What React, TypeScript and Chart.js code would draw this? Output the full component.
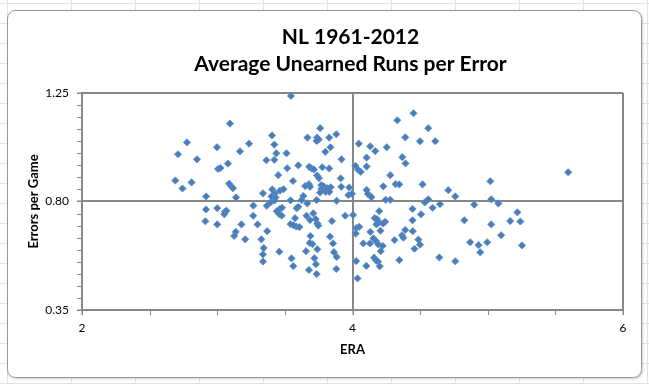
import { useEffect, useRef } from 'react';
import { Chart, registerables } from 'chart.js';

Chart.register(...registerables);

const titleLines = ['NL 1961-2012', 'Average Unearned Runs per Error'];
const xAxisTitle = 'ERA';
const yAxisTitle = 'Errors per Game';
const xTickValues = [2, 4, 6];
const yTickValues = [0.35, 0.8, 1.25];
const xMinorStep = 0.5;
const yMinorStep = 0.05;

const era = [
  3.545, 3.094, 2.776, 2.710, 2.998, 2.850, 3.235, 3.168, 3.079, 3.006,
  3.024, 3.405, 3.422, 3.437, 3.512, 3.363, 3.422, 3.517, 3.451, 3.560,
  2.690, 2.810, 2.743, 3.088, 3.105, 3.116, 2.918, 3.139, 3.338, 3.407,
  3.427, 3.464, 3.490, 3.401, 3.431, 3.542, 3.599, 3.667, 3.738, 3.750,
  3.735, 3.761, 3.828, 3.880, 3.837, 3.799, 3.919, 3.680, 3.697, 3.714,
  3.777, 3.828, 3.738, 3.752, 3.913, 3.650, 3.678, 3.686, 3.769, 3.787,
  3.814, 3.839, 3.769, 3.802, 3.829, 3.760, 3.917, 3.976, 3.969, 3.996,
  3.636, 3.624, 3.735, 3.883, 4.046, 4.131, 4.168, 4.253, 4.331, 4.451,
  4.390, 4.499, 4.560, 4.612, 4.104, 4.368, 4.392, 4.022, 4.042, 4.061,
  4.104, 4.279, 4.228, 4.319, 4.346, 4.104, 4.113, 4.140, 4.245, 4.279,
  4.518, 4.708, 4.760, 5.019, 5.026, 5.078, 4.900, 4.560, 4.534, 4.647,
  5.595, 3.267, 2.917, 3.000, 3.057, 3.068, 3.052, 2.912, 3.000, 3.179,
  3.266, 3.298, 3.137, 3.125, 3.207, 3.326, 3.369, 3.344, 3.338, 3.338,
  3.459, 3.549, 3.562, 3.366, 3.394, 3.423, 3.440, 3.460, 3.479, 3.460,
  3.477, 3.542, 3.575, 3.585, 3.608, 3.564, 3.587, 3.599, 3.666, 3.660,
  3.710, 3.686, 3.728, 3.740, 3.747, 3.848, 3.946, 4.004, 3.689, 3.684,
  3.704, 3.740, 3.656, 3.718, 3.730, 3.678, 3.735, 3.834, 3.856, 3.863,
  3.883, 3.880, 4.028, 4.024, 4.050, 4.027, 4.037, 4.102, 4.080, 4.132,
  4.129, 4.155, 4.174, 4.191, 4.223, 4.164, 4.181, 4.197, 4.177, 4.242,
  4.226, 4.198, 4.207, 4.160, 4.174, 4.189, 4.201, 4.209, 4.311, 4.346,
  4.366, 4.390, 4.376, 4.444, 4.444, 4.446, 4.487, 4.499, 4.458, 4.507,
  4.592, 4.827, 5.026, 5.099, 4.870, 4.932, 4.945, 4.996, 5.166, 5.219,
  5.241, 5.253, 4.642, 4.760,
];

const errorsPerGame = [
  1.238, 1.123, 1.045, 0.996, 1.025, 0.975, 1.040, 1.008, 0.957, 0.935,
  0.939, 1.074, 1.036, 1.000, 1.000, 0.971, 0.973, 0.938, 0.909, 0.885,
  0.887, 0.879, 0.854, 0.874, 0.862, 0.855, 0.821, 0.817, 0.834, 0.850,
  0.834, 0.845, 0.851, 0.821, 0.817, 0.805, 0.950, 1.065, 1.065, 1.057,
  1.051, 1.104, 1.065, 1.079, 1.025, 1.006, 0.975, 0.944, 0.937, 0.933,
  0.942, 0.937, 0.908, 0.897, 0.896, 0.864, 0.872, 0.861, 0.868, 0.863,
  0.855, 0.859, 0.852, 0.840, 0.840, 0.837, 0.861, 0.858, 0.827, 0.832,
  0.823, 0.806, 0.806, 0.803, 1.040, 1.029, 1.009, 1.025, 1.137, 1.166,
  1.066, 1.050, 1.104, 1.050, 0.982, 0.984, 0.958, 0.948, 0.931, 0.923,
  0.945, 0.909, 0.863, 0.872, 0.871, 0.848, 0.832, 0.818, 0.807, 0.807,
  0.871, 0.847, 0.821, 0.884, 0.809, 0.792, 0.787, 0.809, 0.796, 0.789,
  0.921, 0.783, 0.767, 0.772, 0.758, 0.762, 0.747, 0.718, 0.705, 0.705,
  0.741, 0.705, 0.674, 0.657, 0.643, 0.643, 0.677, 0.607, 0.581, 0.551,
  0.592, 0.564, 0.532, 0.782, 0.796, 0.804, 0.760, 0.768, 0.774, 0.747,
  0.741, 0.706, 0.731, 0.696, 0.694, 0.701, 0.772, 0.778, 0.792, 0.741,
  0.751, 0.723, 0.727, 0.709, 0.700, 0.719, 0.741, 0.744, 0.657, 0.628,
  0.623, 0.602, 0.594, 0.565, 0.540, 0.516, 0.499, 0.654, 0.626, 0.590,
  0.570, 0.520, 0.690, 0.667, 0.695, 0.553, 0.481, 0.533, 0.626, 0.674,
  0.626, 0.647, 0.636, 0.622, 0.616, 0.731, 0.727, 0.713, 0.705, 0.716,
  0.709, 0.760, 0.679, 0.567, 0.556, 0.550, 0.531, 0.594, 0.640, 0.557,
  0.660, 0.682, 0.650, 0.769, 0.722, 0.677, 0.642, 0.621, 0.604, 0.747,
  0.774, 0.722, 0.705, 0.660, 0.631, 0.619, 0.589, 0.631, 0.719, 0.755,
  0.717, 0.618, 0.568, 0.552,
];

const FONT = 'Lato, "Liberation Sans", sans-serif';
const AXIS_GRAY = '#878787';
const MARKER_BLUE = '#4A7EBB';

const framePlugin = {
  id: 'excelFrame',
  beforeDraw(chart: any) {
    const { ctx, width, height } = chart;
    ctx.save();
    ctx.fillStyle = '#ffffff';
    ctx.fillRect(0, 0, width, height);
    ctx.strokeStyle = '#e0e2e3';
    ctx.lineWidth = 1;
    for (let x = 7.5; x < width; x += 64) {
      ctx.beginPath();
      ctx.moveTo(x, 0);
      ctx.lineTo(x, height);
      ctx.stroke();
    }
    for (let y = 3.5; y < height; y += 20) {
      ctx.beginPath();
      ctx.moveTo(0, y);
      ctx.lineTo(width, y);
      ctx.stroke();
    }
    const l = 7.5, t = 10.5, r = 641.5, b = 377.5, rad = 8;
    ctx.shadowColor = 'rgba(0,0,0,0.25)';
    ctx.shadowBlur = 3;
    ctx.shadowOffsetX = 1;
    ctx.shadowOffsetY = 1;
    ctx.beginPath();
    ctx.moveTo(l + rad, t);
    ctx.lineTo(r - rad, t);
    ctx.arcTo(r, t, r, t + rad, rad);
    ctx.lineTo(r, b - rad);
    ctx.arcTo(r, b, r - rad, b, rad);
    ctx.lineTo(l + rad, b);
    ctx.arcTo(l, b, l, b - rad, rad);
    ctx.lineTo(l, t + rad);
    ctx.arcTo(l, t, l + rad, t, rad);
    ctx.closePath();
    ctx.fillStyle = '#ffffff';
    ctx.fill();
    ctx.shadowColor = 'transparent';
    ctx.strokeStyle = '#9a9a9a';
    ctx.stroke();
    ctx.restore();
  },
};

const titlePlugin = {
  id: 'excelTitle',
  afterDraw(chart: any) {
    const { ctx, chartArea } = chart;
    const cx = (chartArea.left + chartArea.right) / 2 - 2;
    ctx.save();
    ctx.fillStyle = '#000000';
    ctx.textAlign = 'center';
    ctx.textBaseline = 'middle';
    ctx.font = `bold 21px ${FONT}`;
    const ys = [37, 64];
    titleLines.forEach((line, i) => ctx.fillText(line, cx, ys[i]));
    ctx.restore();
  },
};

const minorTickPlugin = {
  id: 'minorTicks',
  afterDatasetsDraw(chart: any) {
    const { ctx, chartArea, scales } = chart;
    const xs = scales.x;
    const ys = scales.y;
    ctx.save();
    ctx.strokeStyle = AXIS_GRAY;
    ctx.lineWidth = 1;
    const yMin = yTickValues[0];
    const yMax = yTickValues[yTickValues.length - 1];
    const ny = Math.round((yMax - yMin) / yMinorStep);
    for (let i = 0; i <= ny; i++) {
      const py = Math.round(ys.getPixelForValue(yMin + i * yMinorStep)) + 0.5;
      ctx.beginPath();
      ctx.moveTo(chartArea.left - 5, py);
      ctx.lineTo(chartArea.left, py);
      ctx.stroke();
    }
    const xMin = xTickValues[0];
    const xMax = xTickValues[xTickValues.length - 1];
    const nx = Math.round((xMax - xMin) / xMinorStep);
    for (let i = 0; i <= nx; i++) {
      const px = Math.round(xs.getPixelForValue(xMin + i * xMinorStep)) + 0.5;
      ctx.beginPath();
      ctx.moveTo(px, chartArea.bottom);
      ctx.lineTo(px, chartArea.bottom + 5);
      ctx.stroke();
    }
    ctx.restore();
  },
};

export default function App() {
  const canvasRef = useRef<HTMLCanvasElement | null>(null);

  useEffect(() => {
    if (!canvasRef.current) return;
    const points = era.map((x, i) => ({ x, y: errorsPerGame[i] }));
    const chart = new Chart(canvasRef.current, {
      type: 'scatter',
      data: {
        datasets: [
          {
            label: 'Teams',
            data: points,
            pointStyle: 'rectRot',
            pointRadius: 3.6,
            pointHoverRadius: 3.6,
            pointBackgroundColor: MARKER_BLUE,
            pointBorderColor: '#5a8bc6',
            pointBorderWidth: 0.8,
          },
        ],
      },
      options: {
        animation: false,
        responsive: false,
        devicePixelRatio: 1,
        events: [],
        layout: { padding: { left: 0, right: 26, top: 93, bottom: 0 } },
        plugins: {
          legend: { display: false },
          tooltip: { enabled: false },
          title: { display: false },
        },
        scales: {
          x: {
            type: 'linear',
            min: xTickValues[0],
            max: xTickValues[xTickValues.length - 1],
            afterBuildTicks: (s: any) => {
              s.ticks = xTickValues.map((v) => ({ value: v }));
            },
            afterFit: (s: any) => {
              s.height = 74;
            },
            ticks: {
              color: '#000000',
              font: { family: FONT, size: 12 },
              padding: 6,
              maxRotation: 0,
              callback: (v: any) => String(v),
            },
            grid: {
              color: AXIS_GRAY,
              lineWidth: 2,
              drawTicks: true,
              tickLength: 5,
              tickColor: AXIS_GRAY,
              tickWidth: 1,
            },
            border: { display: true, color: AXIS_GRAY, width: 2 },
            title: {
              display: true,
              text: xAxisTitle,
              color: '#000000',
              font: { family: FONT, size: 13, weight: 'bold' },
              padding: { top: 0, bottom: 26 },
            },
          },
          y: {
            type: 'linear',
            min: yTickValues[0],
            max: yTickValues[yTickValues.length - 1],
            afterBuildTicks: (s: any) => {
              s.ticks = yTickValues.map((v) => ({ value: v }));
            },
            afterFit: (s: any) => {
              s.width = 82;
            },
            ticks: {
              color: '#000000',
              font: { family: FONT, size: 12 },
              padding: 8,
              callback: (v: any) => Number(v).toFixed(2),
            },
            grid: {
              color: AXIS_GRAY,
              lineWidth: 2,
              drawTicks: true,
              tickLength: 5,
              tickColor: AXIS_GRAY,
              tickWidth: 1,
            },
            border: { display: true, color: AXIS_GRAY, width: 2 },
            title: {
              display: true,
              text: yAxisTitle,
              color: '#000000',
              font: { family: FONT, size: 13, weight: 'bold' },
              padding: { top: 26, bottom: 0 },
            },
          },
        },
      },
      plugins: [framePlugin, minorTickPlugin, titlePlugin],
    });
    return () => chart.destroy();
  }, []);

  return (
    <div style={{ position: 'fixed', left: 0, top: 0, width: 649, height: 384 }}>
      <canvas ref={canvasRef} width={649} height={384} style={{ display: 'block' }} />
    </div>
  );
}
